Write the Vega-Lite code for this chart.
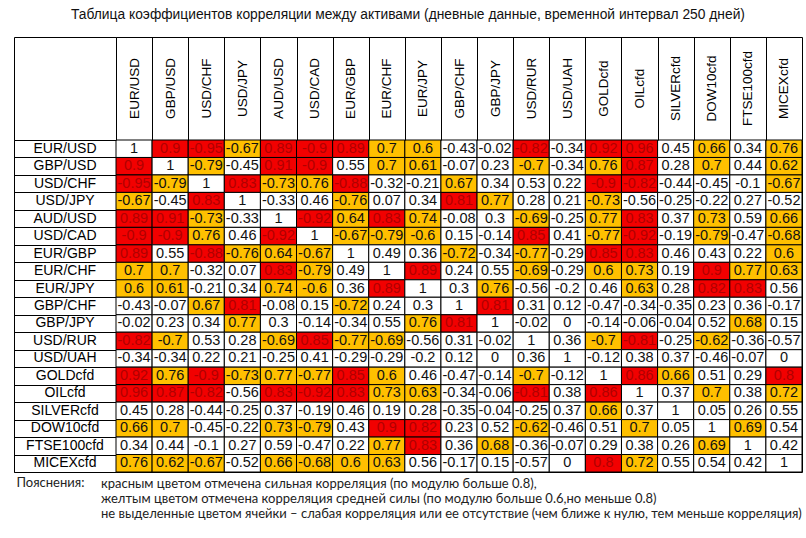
{
"$schema": "https://vega.github.io/schema/vega-lite/v6.json",
"padding": {"left": 13, "top": 8, "right": 0, "bottom": 0},
"background": "white",
"bounds": "flush",
"title": {"text": "Таблица коэффициентов корреляции между активами (дневные данные, временной интервал 250 дней)", "font": "Liberation Sans", "fontSize": 13.8, "fontWeight": "normal", "color": "#111111", "offset": 14, "anchor": "middle"},
"data": {"values": [
{"r":"EUR/USD","c":"EUR/USD","v":1},{"r":"EUR/USD","c":"GBP/USD","v":0.9},{"r":"EUR/USD","c":"USD/CHF","v":-0.95},{"r":"EUR/USD","c":"USD/JPY","v":-0.67},{"r":"EUR/USD","c":"AUD/USD","v":0.89},{"r":"EUR/USD","c":"USD/CAD","v":-0.9},{"r":"EUR/USD","c":"EUR/GBP","v":0.89},{"r":"EUR/USD","c":"EUR/CHF","v":0.7},{"r":"EUR/USD","c":"EUR/JPY","v":0.6},{"r":"EUR/USD","c":"GBP/CHF","v":-0.43},{"r":"EUR/USD","c":"GBP/JPY","v":-0.02},{"r":"EUR/USD","c":"USD/RUR","v":-0.82},{"r":"EUR/USD","c":"USD/UAH","v":-0.34},{"r":"EUR/USD","c":"GOLDcfd","v":0.92},{"r":"EUR/USD","c":"OILcfd","v":0.96},{"r":"EUR/USD","c":"SILVERcfd","v":0.45},{"r":"EUR/USD","c":"DOW10cfd","v":0.66},{"r":"EUR/USD","c":"FTSE100cfd","v":0.34},{"r":"EUR/USD","c":"MICEXcfd","v":0.76},
{"r":"GBP/USD","c":"EUR/USD","v":0.9},{"r":"GBP/USD","c":"GBP/USD","v":1},{"r":"GBP/USD","c":"USD/CHF","v":-0.79},{"r":"GBP/USD","c":"USD/JPY","v":-0.45},{"r":"GBP/USD","c":"AUD/USD","v":0.91},{"r":"GBP/USD","c":"USD/CAD","v":-0.9},{"r":"GBP/USD","c":"EUR/GBP","v":0.55},{"r":"GBP/USD","c":"EUR/CHF","v":0.7},{"r":"GBP/USD","c":"EUR/JPY","v":0.61},{"r":"GBP/USD","c":"GBP/CHF","v":-0.07},{"r":"GBP/USD","c":"GBP/JPY","v":0.23},{"r":"GBP/USD","c":"USD/RUR","v":-0.7},{"r":"GBP/USD","c":"USD/UAH","v":-0.34},{"r":"GBP/USD","c":"GOLDcfd","v":0.76},{"r":"GBP/USD","c":"OILcfd","v":0.87},{"r":"GBP/USD","c":"SILVERcfd","v":0.28},{"r":"GBP/USD","c":"DOW10cfd","v":0.7},{"r":"GBP/USD","c":"FTSE100cfd","v":0.44},{"r":"GBP/USD","c":"MICEXcfd","v":0.62},
{"r":"USD/CHF","c":"EUR/USD","v":-0.95},{"r":"USD/CHF","c":"GBP/USD","v":-0.79},{"r":"USD/CHF","c":"USD/CHF","v":1},{"r":"USD/CHF","c":"USD/JPY","v":0.83},{"r":"USD/CHF","c":"AUD/USD","v":-0.73},{"r":"USD/CHF","c":"USD/CAD","v":0.76},{"r":"USD/CHF","c":"EUR/GBP","v":-0.88},{"r":"USD/CHF","c":"EUR/CHF","v":-0.32},{"r":"USD/CHF","c":"EUR/JPY","v":-0.21},{"r":"USD/CHF","c":"GBP/CHF","v":0.67},{"r":"USD/CHF","c":"GBP/JPY","v":0.34},{"r":"USD/CHF","c":"USD/RUR","v":0.53},{"r":"USD/CHF","c":"USD/UAH","v":0.22},{"r":"USD/CHF","c":"GOLDcfd","v":-0.9},{"r":"USD/CHF","c":"OILcfd","v":-0.82},{"r":"USD/CHF","c":"SILVERcfd","v":-0.44},{"r":"USD/CHF","c":"DOW10cfd","v":-0.45},{"r":"USD/CHF","c":"FTSE100cfd","v":-0.1},{"r":"USD/CHF","c":"MICEXcfd","v":-0.67},
{"r":"USD/JPY","c":"EUR/USD","v":-0.67},{"r":"USD/JPY","c":"GBP/USD","v":-0.45},{"r":"USD/JPY","c":"USD/CHF","v":0.83},{"r":"USD/JPY","c":"USD/JPY","v":1},{"r":"USD/JPY","c":"AUD/USD","v":-0.33},{"r":"USD/JPY","c":"USD/CAD","v":0.46},{"r":"USD/JPY","c":"EUR/GBP","v":-0.76},{"r":"USD/JPY","c":"EUR/CHF","v":0.07},{"r":"USD/JPY","c":"EUR/JPY","v":0.34},{"r":"USD/JPY","c":"GBP/CHF","v":0.81},{"r":"USD/JPY","c":"GBP/JPY","v":0.77},{"r":"USD/JPY","c":"USD/RUR","v":0.28},{"r":"USD/JPY","c":"USD/UAH","v":0.21},{"r":"USD/JPY","c":"GOLDcfd","v":-0.73},{"r":"USD/JPY","c":"OILcfd","v":-0.56},{"r":"USD/JPY","c":"SILVERcfd","v":-0.25},{"r":"USD/JPY","c":"DOW10cfd","v":-0.22},{"r":"USD/JPY","c":"FTSE100cfd","v":0.27},{"r":"USD/JPY","c":"MICEXcfd","v":-0.52},
{"r":"AUD/USD","c":"EUR/USD","v":0.89},{"r":"AUD/USD","c":"GBP/USD","v":0.91},{"r":"AUD/USD","c":"USD/CHF","v":-0.73},{"r":"AUD/USD","c":"USD/JPY","v":-0.33},{"r":"AUD/USD","c":"AUD/USD","v":1},{"r":"AUD/USD","c":"USD/CAD","v":-0.92},{"r":"AUD/USD","c":"EUR/GBP","v":0.64},{"r":"AUD/USD","c":"EUR/CHF","v":0.83},{"r":"AUD/USD","c":"EUR/JPY","v":0.74},{"r":"AUD/USD","c":"GBP/CHF","v":-0.08},{"r":"AUD/USD","c":"GBP/JPY","v":0.3},{"r":"AUD/USD","c":"USD/RUR","v":-0.69},{"r":"AUD/USD","c":"USD/UAH","v":-0.25},{"r":"AUD/USD","c":"GOLDcfd","v":0.77},{"r":"AUD/USD","c":"OILcfd","v":0.83},{"r":"AUD/USD","c":"SILVERcfd","v":0.37},{"r":"AUD/USD","c":"DOW10cfd","v":0.73},{"r":"AUD/USD","c":"FTSE100cfd","v":0.59},{"r":"AUD/USD","c":"MICEXcfd","v":0.66},
{"r":"USD/CAD","c":"EUR/USD","v":-0.9},{"r":"USD/CAD","c":"GBP/USD","v":-0.9},{"r":"USD/CAD","c":"USD/CHF","v":0.76},{"r":"USD/CAD","c":"USD/JPY","v":0.46},{"r":"USD/CAD","c":"AUD/USD","v":-0.92},{"r":"USD/CAD","c":"USD/CAD","v":1},{"r":"USD/CAD","c":"EUR/GBP","v":-0.67},{"r":"USD/CAD","c":"EUR/CHF","v":-0.79},{"r":"USD/CAD","c":"EUR/JPY","v":-0.6},{"r":"USD/CAD","c":"GBP/CHF","v":0.15},{"r":"USD/CAD","c":"GBP/JPY","v":-0.14},{"r":"USD/CAD","c":"USD/RUR","v":0.85},{"r":"USD/CAD","c":"USD/UAH","v":0.41},{"r":"USD/CAD","c":"GOLDcfd","v":-0.77},{"r":"USD/CAD","c":"OILcfd","v":-0.92},{"r":"USD/CAD","c":"SILVERcfd","v":-0.19},{"r":"USD/CAD","c":"DOW10cfd","v":-0.79},{"r":"USD/CAD","c":"FTSE100cfd","v":-0.47},{"r":"USD/CAD","c":"MICEXcfd","v":-0.68},
{"r":"EUR/GBP","c":"EUR/USD","v":0.89},{"r":"EUR/GBP","c":"GBP/USD","v":0.55},{"r":"EUR/GBP","c":"USD/CHF","v":-0.88},{"r":"EUR/GBP","c":"USD/JPY","v":-0.76},{"r":"EUR/GBP","c":"AUD/USD","v":0.64},{"r":"EUR/GBP","c":"USD/CAD","v":-0.67},{"r":"EUR/GBP","c":"EUR/GBP","v":1},{"r":"EUR/GBP","c":"EUR/CHF","v":0.49},{"r":"EUR/GBP","c":"EUR/JPY","v":0.36},{"r":"EUR/GBP","c":"GBP/CHF","v":-0.72},{"r":"EUR/GBP","c":"GBP/JPY","v":-0.34},{"r":"EUR/GBP","c":"USD/RUR","v":-0.77},{"r":"EUR/GBP","c":"USD/UAH","v":-0.29},{"r":"EUR/GBP","c":"GOLDcfd","v":0.85},{"r":"EUR/GBP","c":"OILcfd","v":0.83},{"r":"EUR/GBP","c":"SILVERcfd","v":0.46},{"r":"EUR/GBP","c":"DOW10cfd","v":0.43},{"r":"EUR/GBP","c":"FTSE100cfd","v":0.22},{"r":"EUR/GBP","c":"MICEXcfd","v":0.6},
{"r":"EUR/CHF","c":"EUR/USD","v":0.7},{"r":"EUR/CHF","c":"GBP/USD","v":0.7},{"r":"EUR/CHF","c":"USD/CHF","v":-0.32},{"r":"EUR/CHF","c":"USD/JPY","v":0.07},{"r":"EUR/CHF","c":"AUD/USD","v":0.83},{"r":"EUR/CHF","c":"USD/CAD","v":-0.79},{"r":"EUR/CHF","c":"EUR/GBP","v":0.49},{"r":"EUR/CHF","c":"EUR/CHF","v":1},{"r":"EUR/CHF","c":"EUR/JPY","v":0.89},{"r":"EUR/CHF","c":"GBP/CHF","v":0.24},{"r":"EUR/CHF","c":"GBP/JPY","v":0.55},{"r":"EUR/CHF","c":"USD/RUR","v":-0.69},{"r":"EUR/CHF","c":"USD/UAH","v":-0.29},{"r":"EUR/CHF","c":"GOLDcfd","v":0.6},{"r":"EUR/CHF","c":"OILcfd","v":0.73},{"r":"EUR/CHF","c":"SILVERcfd","v":0.19},{"r":"EUR/CHF","c":"DOW10cfd","v":0.9},{"r":"EUR/CHF","c":"FTSE100cfd","v":0.77},{"r":"EUR/CHF","c":"MICEXcfd","v":0.63},
{"r":"EUR/JPY","c":"EUR/USD","v":0.6},{"r":"EUR/JPY","c":"GBP/USD","v":0.61},{"r":"EUR/JPY","c":"USD/CHF","v":-0.21},{"r":"EUR/JPY","c":"USD/JPY","v":0.34},{"r":"EUR/JPY","c":"AUD/USD","v":0.74},{"r":"EUR/JPY","c":"USD/CAD","v":-0.6},{"r":"EUR/JPY","c":"EUR/GBP","v":0.36},{"r":"EUR/JPY","c":"EUR/CHF","v":0.89},{"r":"EUR/JPY","c":"EUR/JPY","v":1},{"r":"EUR/JPY","c":"GBP/CHF","v":0.3},{"r":"EUR/JPY","c":"GBP/JPY","v":0.76},{"r":"EUR/JPY","c":"USD/RUR","v":-0.56},{"r":"EUR/JPY","c":"USD/UAH","v":-0.2},{"r":"EUR/JPY","c":"GOLDcfd","v":0.46},{"r":"EUR/JPY","c":"OILcfd","v":0.63},{"r":"EUR/JPY","c":"SILVERcfd","v":0.28},{"r":"EUR/JPY","c":"DOW10cfd","v":0.82},{"r":"EUR/JPY","c":"FTSE100cfd","v":0.83},{"r":"EUR/JPY","c":"MICEXcfd","v":0.56},
{"r":"GBP/CHF","c":"EUR/USD","v":-0.43},{"r":"GBP/CHF","c":"GBP/USD","v":-0.07},{"r":"GBP/CHF","c":"USD/CHF","v":0.67},{"r":"GBP/CHF","c":"USD/JPY","v":0.81},{"r":"GBP/CHF","c":"AUD/USD","v":-0.08},{"r":"GBP/CHF","c":"USD/CAD","v":0.15},{"r":"GBP/CHF","c":"EUR/GBP","v":-0.72},{"r":"GBP/CHF","c":"EUR/CHF","v":0.24},{"r":"GBP/CHF","c":"EUR/JPY","v":0.3},{"r":"GBP/CHF","c":"GBP/CHF","v":1},{"r":"GBP/CHF","c":"GBP/JPY","v":0.81},{"r":"GBP/CHF","c":"USD/RUR","v":0.31},{"r":"GBP/CHF","c":"USD/UAH","v":0.12},{"r":"GBP/CHF","c":"GOLDcfd","v":-0.47},{"r":"GBP/CHF","c":"OILcfd","v":-0.34},{"r":"GBP/CHF","c":"SILVERcfd","v":-0.35},{"r":"GBP/CHF","c":"DOW10cfd","v":0.23},{"r":"GBP/CHF","c":"FTSE100cfd","v":0.36},{"r":"GBP/CHF","c":"MICEXcfd","v":-0.17},
{"r":"GBP/JPY","c":"EUR/USD","v":-0.02},{"r":"GBP/JPY","c":"GBP/USD","v":0.23},{"r":"GBP/JPY","c":"USD/CHF","v":0.34},{"r":"GBP/JPY","c":"USD/JPY","v":0.77},{"r":"GBP/JPY","c":"AUD/USD","v":0.3},{"r":"GBP/JPY","c":"USD/CAD","v":-0.14},{"r":"GBP/JPY","c":"EUR/GBP","v":-0.34},{"r":"GBP/JPY","c":"EUR/CHF","v":0.55},{"r":"GBP/JPY","c":"EUR/JPY","v":0.76},{"r":"GBP/JPY","c":"GBP/CHF","v":0.81},{"r":"GBP/JPY","c":"GBP/JPY","v":1},{"r":"GBP/JPY","c":"USD/RUR","v":-0.02},{"r":"GBP/JPY","c":"USD/UAH","v":0},{"r":"GBP/JPY","c":"GOLDcfd","v":-0.14},{"r":"GBP/JPY","c":"OILcfd","v":-0.06},{"r":"GBP/JPY","c":"SILVERcfd","v":-0.04},{"r":"GBP/JPY","c":"DOW10cfd","v":0.52},{"r":"GBP/JPY","c":"FTSE100cfd","v":0.68},{"r":"GBP/JPY","c":"MICEXcfd","v":0.15},
{"r":"USD/RUR","c":"EUR/USD","v":-0.82},{"r":"USD/RUR","c":"GBP/USD","v":-0.7},{"r":"USD/RUR","c":"USD/CHF","v":0.53},{"r":"USD/RUR","c":"USD/JPY","v":0.28},{"r":"USD/RUR","c":"AUD/USD","v":-0.69},{"r":"USD/RUR","c":"USD/CAD","v":0.85},{"r":"USD/RUR","c":"EUR/GBP","v":-0.77},{"r":"USD/RUR","c":"EUR/CHF","v":-0.69},{"r":"USD/RUR","c":"EUR/JPY","v":-0.56},{"r":"USD/RUR","c":"GBP/CHF","v":0.31},{"r":"USD/RUR","c":"GBP/JPY","v":-0.02},{"r":"USD/RUR","c":"USD/RUR","v":1},{"r":"USD/RUR","c":"USD/UAH","v":0.36},{"r":"USD/RUR","c":"GOLDcfd","v":-0.7},{"r":"USD/RUR","c":"OILcfd","v":-0.81},{"r":"USD/RUR","c":"SILVERcfd","v":-0.25},{"r":"USD/RUR","c":"DOW10cfd","v":-0.62},{"r":"USD/RUR","c":"FTSE100cfd","v":-0.36},{"r":"USD/RUR","c":"MICEXcfd","v":-0.57},
{"r":"USD/UAH","c":"EUR/USD","v":-0.34},{"r":"USD/UAH","c":"GBP/USD","v":-0.34},{"r":"USD/UAH","c":"USD/CHF","v":0.22},{"r":"USD/UAH","c":"USD/JPY","v":0.21},{"r":"USD/UAH","c":"AUD/USD","v":-0.25},{"r":"USD/UAH","c":"USD/CAD","v":0.41},{"r":"USD/UAH","c":"EUR/GBP","v":-0.29},{"r":"USD/UAH","c":"EUR/CHF","v":-0.29},{"r":"USD/UAH","c":"EUR/JPY","v":-0.2},{"r":"USD/UAH","c":"GBP/CHF","v":0.12},{"r":"USD/UAH","c":"GBP/JPY","v":0},{"r":"USD/UAH","c":"USD/RUR","v":0.36},{"r":"USD/UAH","c":"USD/UAH","v":1},{"r":"USD/UAH","c":"GOLDcfd","v":-0.12},{"r":"USD/UAH","c":"OILcfd","v":0.38},{"r":"USD/UAH","c":"SILVERcfd","v":0.37},{"r":"USD/UAH","c":"DOW10cfd","v":-0.46},{"r":"USD/UAH","c":"FTSE100cfd","v":-0.07},{"r":"USD/UAH","c":"MICEXcfd","v":0},
{"r":"GOLDcfd","c":"EUR/USD","v":0.92},{"r":"GOLDcfd","c":"GBP/USD","v":0.76},{"r":"GOLDcfd","c":"USD/CHF","v":-0.9},{"r":"GOLDcfd","c":"USD/JPY","v":-0.73},{"r":"GOLDcfd","c":"AUD/USD","v":0.77},{"r":"GOLDcfd","c":"USD/CAD","v":-0.77},{"r":"GOLDcfd","c":"EUR/GBP","v":0.85},{"r":"GOLDcfd","c":"EUR/CHF","v":0.6},{"r":"GOLDcfd","c":"EUR/JPY","v":0.46},{"r":"GOLDcfd","c":"GBP/CHF","v":-0.47},{"r":"GOLDcfd","c":"GBP/JPY","v":-0.14},{"r":"GOLDcfd","c":"USD/RUR","v":-0.7},{"r":"GOLDcfd","c":"USD/UAH","v":-0.12},{"r":"GOLDcfd","c":"GOLDcfd","v":1},{"r":"GOLDcfd","c":"OILcfd","v":0.86},{"r":"GOLDcfd","c":"SILVERcfd","v":0.66},{"r":"GOLDcfd","c":"DOW10cfd","v":0.51},{"r":"GOLDcfd","c":"FTSE100cfd","v":0.29},{"r":"GOLDcfd","c":"MICEXcfd","v":0.8},
{"r":"OILcfd","c":"EUR/USD","v":0.96},{"r":"OILcfd","c":"GBP/USD","v":0.87},{"r":"OILcfd","c":"USD/CHF","v":-0.82},{"r":"OILcfd","c":"USD/JPY","v":-0.56},{"r":"OILcfd","c":"AUD/USD","v":0.83},{"r":"OILcfd","c":"USD/CAD","v":-0.92},{"r":"OILcfd","c":"EUR/GBP","v":0.83},{"r":"OILcfd","c":"EUR/CHF","v":0.73},{"r":"OILcfd","c":"EUR/JPY","v":0.63},{"r":"OILcfd","c":"GBP/CHF","v":-0.34},{"r":"OILcfd","c":"GBP/JPY","v":-0.06},{"r":"OILcfd","c":"USD/RUR","v":-0.81},{"r":"OILcfd","c":"USD/UAH","v":0.38},{"r":"OILcfd","c":"GOLDcfd","v":0.86},{"r":"OILcfd","c":"OILcfd","v":1},{"r":"OILcfd","c":"SILVERcfd","v":0.37},{"r":"OILcfd","c":"DOW10cfd","v":0.7},{"r":"OILcfd","c":"FTSE100cfd","v":0.38},{"r":"OILcfd","c":"MICEXcfd","v":0.72},
{"r":"SILVERcfd","c":"EUR/USD","v":0.45},{"r":"SILVERcfd","c":"GBP/USD","v":0.28},{"r":"SILVERcfd","c":"USD/CHF","v":-0.44},{"r":"SILVERcfd","c":"USD/JPY","v":-0.25},{"r":"SILVERcfd","c":"AUD/USD","v":0.37},{"r":"SILVERcfd","c":"USD/CAD","v":-0.19},{"r":"SILVERcfd","c":"EUR/GBP","v":0.46},{"r":"SILVERcfd","c":"EUR/CHF","v":0.19},{"r":"SILVERcfd","c":"EUR/JPY","v":0.28},{"r":"SILVERcfd","c":"GBP/CHF","v":-0.35},{"r":"SILVERcfd","c":"GBP/JPY","v":-0.04},{"r":"SILVERcfd","c":"USD/RUR","v":-0.25},{"r":"SILVERcfd","c":"USD/UAH","v":0.37},{"r":"SILVERcfd","c":"GOLDcfd","v":0.66},{"r":"SILVERcfd","c":"OILcfd","v":0.37},{"r":"SILVERcfd","c":"SILVERcfd","v":1},{"r":"SILVERcfd","c":"DOW10cfd","v":0.05},{"r":"SILVERcfd","c":"FTSE100cfd","v":0.26},{"r":"SILVERcfd","c":"MICEXcfd","v":0.55},
{"r":"DOW10cfd","c":"EUR/USD","v":0.66},{"r":"DOW10cfd","c":"GBP/USD","v":0.7},{"r":"DOW10cfd","c":"USD/CHF","v":-0.45},{"r":"DOW10cfd","c":"USD/JPY","v":-0.22},{"r":"DOW10cfd","c":"AUD/USD","v":0.73},{"r":"DOW10cfd","c":"USD/CAD","v":-0.79},{"r":"DOW10cfd","c":"EUR/GBP","v":0.43},{"r":"DOW10cfd","c":"EUR/CHF","v":0.9},{"r":"DOW10cfd","c":"EUR/JPY","v":0.82},{"r":"DOW10cfd","c":"GBP/CHF","v":0.23},{"r":"DOW10cfd","c":"GBP/JPY","v":0.52},{"r":"DOW10cfd","c":"USD/RUR","v":-0.62},{"r":"DOW10cfd","c":"USD/UAH","v":-0.46},{"r":"DOW10cfd","c":"GOLDcfd","v":0.51},{"r":"DOW10cfd","c":"OILcfd","v":0.7},{"r":"DOW10cfd","c":"SILVERcfd","v":0.05},{"r":"DOW10cfd","c":"DOW10cfd","v":1},{"r":"DOW10cfd","c":"FTSE100cfd","v":0.69},{"r":"DOW10cfd","c":"MICEXcfd","v":0.54},
{"r":"FTSE100cfd","c":"EUR/USD","v":0.34},{"r":"FTSE100cfd","c":"GBP/USD","v":0.44},{"r":"FTSE100cfd","c":"USD/CHF","v":-0.1},{"r":"FTSE100cfd","c":"USD/JPY","v":0.27},{"r":"FTSE100cfd","c":"AUD/USD","v":0.59},{"r":"FTSE100cfd","c":"USD/CAD","v":-0.47},{"r":"FTSE100cfd","c":"EUR/GBP","v":0.22},{"r":"FTSE100cfd","c":"EUR/CHF","v":0.77},{"r":"FTSE100cfd","c":"EUR/JPY","v":0.83},{"r":"FTSE100cfd","c":"GBP/CHF","v":0.36},{"r":"FTSE100cfd","c":"GBP/JPY","v":0.68},{"r":"FTSE100cfd","c":"USD/RUR","v":-0.36},{"r":"FTSE100cfd","c":"USD/UAH","v":-0.07},{"r":"FTSE100cfd","c":"GOLDcfd","v":0.29},{"r":"FTSE100cfd","c":"OILcfd","v":0.38},{"r":"FTSE100cfd","c":"SILVERcfd","v":0.26},{"r":"FTSE100cfd","c":"DOW10cfd","v":0.69},{"r":"FTSE100cfd","c":"FTSE100cfd","v":1},{"r":"FTSE100cfd","c":"MICEXcfd","v":0.42},
{"r":"MICEXcfd","c":"EUR/USD","v":0.76},{"r":"MICEXcfd","c":"GBP/USD","v":0.62},{"r":"MICEXcfd","c":"USD/CHF","v":-0.67},{"r":"MICEXcfd","c":"USD/JPY","v":-0.52},{"r":"MICEXcfd","c":"AUD/USD","v":0.66},{"r":"MICEXcfd","c":"USD/CAD","v":-0.68},{"r":"MICEXcfd","c":"EUR/GBP","v":0.6},{"r":"MICEXcfd","c":"EUR/CHF","v":0.63},{"r":"MICEXcfd","c":"EUR/JPY","v":0.56},{"r":"MICEXcfd","c":"GBP/CHF","v":-0.17},{"r":"MICEXcfd","c":"GBP/JPY","v":0.15},{"r":"MICEXcfd","c":"USD/RUR","v":-0.57},{"r":"MICEXcfd","c":"USD/UAH","v":0},{"r":"MICEXcfd","c":"GOLDcfd","v":0.8},{"r":"MICEXcfd","c":"OILcfd","v":0.72},{"r":"MICEXcfd","c":"SILVERcfd","v":0.55},{"r":"MICEXcfd","c":"DOW10cfd","v":0.54},{"r":"MICEXcfd","c":"FTSE100cfd","v":0.42},{"r":"MICEXcfd","c":"MICEXcfd","v":1}
]},
"spacing": 0,
"hconcat": [
{
 "width": 102, "height": 332,
 "transform": [{"filter": {"field": "c", "equal": "EUR/USD"}}],
 "title": {"text": "Пояснения:", "orient": "bottom", "anchor": "start", "dx": 3, "offset": 5, "font": "Lato", "fontSize": 13, "fontWeight": "normal", "color": "#222222"},
 "mark": {"type": "text", "font": "Liberation Sans", "fontSize": 14, "color": "black", "baseline": "middle", "align": "center"},
 "encoding": {
  "y": {"field": "r", "type": "nominal", "sort": ["EUR/USD","GBP/USD","USD/CHF","USD/JPY","AUD/USD","USD/CAD","EUR/GBP","EUR/CHF","EUR/JPY","GBP/CHF","GBP/JPY","USD/RUR","USD/UAH","GOLDcfd","OILcfd","SILVERcfd","DOW10cfd","FTSE100cfd","MICEXcfd"], "scale": {"type": "band", "paddingInner": 0, "paddingOuter": 0}, "axis": {"labels": false, "ticks": false, "domain": false, "grid": true, "gridColor": "black", "gridOpacity": 1, "gridWidth": 1, "tickBand": "extent", "title": null, "minExtent": 0}},
  "x": {"datum": "h", "type": "nominal", "scale": {"type": "band", "paddingInner": 0, "paddingOuter": 0}, "axis": {"orient": "top", "offset": 103, "tickSize": -103, "tickBand": "extent", "ticks": true, "tickColor": "black", "tickWidth": 1, "domain": true, "domainColor": "black", "domainWidth": 1, "labels": false, "grid": false, "title": null}},
  "text": {"field": "r", "type": "nominal"}
 }
},
{
 "width": 686, "height": 332,
 "title": {"text": ["красным цветом отмечена сильная корреляция (по модулю больше 0.8),", "желтым цветом отмечена  корреляция  средней силы (по модулю больше 0.6,но меньше 0.8)", "не выделенные цветом ячейки – слабая корреляция или ее отсутствие (чем ближе к нулю, тем меньше корреляция)"], "orient": "bottom", "anchor": "start", "dx": -8, "offset": 5, "lineHeight": 15, "font": "Lato", "fontSize": 13, "fontWeight": "normal", "color": "#222222"},
 "encoding": {
  "x": {"field": "c", "type": "nominal", "sort": ["EUR/USD","GBP/USD","USD/CHF","USD/JPY","AUD/USD","USD/CAD","EUR/GBP","EUR/CHF","EUR/JPY","GBP/CHF","GBP/JPY","USD/RUR","USD/UAH","GOLDcfd","OILcfd","SILVERcfd","DOW10cfd","FTSE100cfd","MICEXcfd"], "scale": {"type": "band", "paddingInner": 0, "paddingOuter": 0}, "axis": {"orient": "top", "offset": 103, "tickSize": -103, "tickBand": "extent", "tickColor": "black", "tickWidth": 1, "domain": true, "domainColor": "black", "domainWidth": 1, "labelAngle": -90, "labelAlign": "center", "labelBaseline": "middle", "labelPadding": 52, "labelFont": "Liberation Sans", "labelFontSize": 13.5, "labelColor": "black", "labelOverlap": false, "grid": false, "title": null}},
  "y": {"field": "r", "type": "nominal", "sort": ["EUR/USD","GBP/USD","USD/CHF","USD/JPY","AUD/USD","USD/CAD","EUR/GBP","EUR/CHF","EUR/JPY","GBP/CHF","GBP/JPY","USD/RUR","USD/UAH","GOLDcfd","OILcfd","SILVERcfd","DOW10cfd","FTSE100cfd","MICEXcfd"], "scale": {"type": "band", "paddingInner": 0, "paddingOuter": 0}, "axis": null}
 },
 "layer": [
  {"mark": {"type": "rect", "stroke": "black", "strokeWidth": 1},
   "encoding": {"fill": {"condition": [{"test": "datum.v != 1 && abs(datum.v) >= 0.8", "value": "#f20000"}, {"test": "datum.v != 1 && abs(datum.v) >= 0.6", "value": "#ffc000"}], "value": "#ffffff"}}},
  {"mark": {"type": "text", "font": "Liberation Sans", "fontSize": 14.5, "baseline": "middle", "align": "center"},
   "encoding": {"text": {"field": "v", "type": "nominal"}, "color": {"condition": {"test": "datum.v != 1 && abs(datum.v) >= 0.8", "value": "#b00000"}, "value": "#111111"}}}
 ]
}
],
"config": {"view": {"stroke": "black", "strokeWidth": 1}, "concat": {"spacing": 0}}
}
